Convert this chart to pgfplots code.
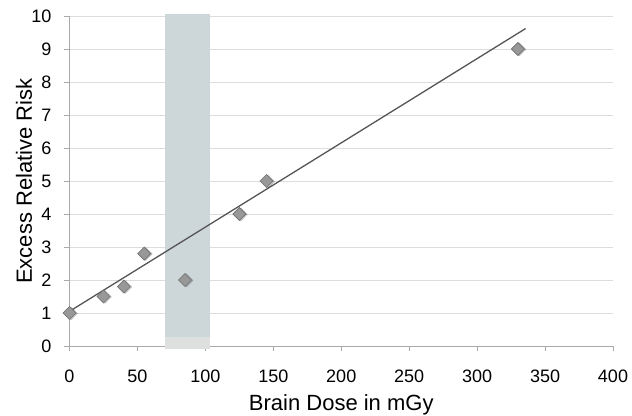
\documentclass[border=0pt]{standalone}
\usepackage{fontspec}
\setmainfont{Liberation Sans}
\usepackage{pgfplots}
\pgfplotsset{compat=1.18}

\definecolor{shade}{RGB}{205,214,217}
\definecolor{shadelow}{RGB}{222,223,223}
\definecolor{gridc}{RGB}{221,221,221}
\definecolor{axisc}{RGB}{170,170,170}
\definecolor{trend}{RGB}{85,85,85}
\definecolor{markfill}{RGB}{152,152,152}
\definecolor{markdraw}{RGB}{110,110,110}

\begin{document}
\begin{tikzpicture}
\begin{axis}[
    set layers,
    at={(0,0)}, anchor=south west,
    scale only axis,
    width=543.5bp, height=330bp,
    xmin=0, xmax=400, ymin=0, ymax=10,
    xtick={0,50,...,400}, ytick={0,1,...,10},
    axis x line*=bottom, axis y line*=left,
    axis line style={axisc, line width=0.9bp},
    tick style={axisc, line width=0.9bp},
    tick align=outside, major tick length=5bp,
    ymajorgrids,
    grid style={gridc, line width=0.8bp},
    clip=false,
    /pgf/number format/assume math mode=true,
    tick label style={font=\fontsize{18bp}{20bp}\selectfont, inner sep=0pt},
    yticklabel style={anchor=east, xshift=-12.8bp},
    xticklabel style={anchor=north, yshift=-19bp},
    xlabel={Brain Dose in mGy},
    ylabel={Excess Relative Risk},
    label style={font=\fontsize{22bp}{24bp}\selectfont},
    xlabel style={at={(axis description cs:0.5,0)}, anchor=base, yshift=-64bp},
    ylabel style={at={(axis description cs:-0.069,0.5)}, anchor=base},
]
% shaded dose band
\addplot[fill=shade, draw=none] coordinates {(70.5,0.27) (103.5,0.27) (103.5,10.05) (70.5,10.05)} -- cycle;
\addplot[fill=shadelow, draw=none] coordinates {(70.5,-0.09) (103.5,-0.09) (103.5,0.27) (70.5,0.27)} -- cycle;
% trend line
\addplot[trend, line width=1.3bp] coordinates {(0,1.05) (335.7,9.62)};
% marker shadows
\addplot[only marks, mark=square*, mark size=4.6bp,
    mark options={rotate=45, fill=black, draw=none, opacity=0.18, xshift=0.8bp, yshift=-1.4bp}]
    coordinates {(0,1) (25,1.5) (40,1.8) (55,2.8) (85,2) (125,4) (145,5) (330,9)};
% data points
\addplot[only marks, mark=square*, mark size=4.6bp,
    mark options={rotate=45, fill=markfill, draw=markdraw, line width=0.6bp}]
    coordinates {(0,1) (25,1.5) (40,1.8) (55,2.8) (85,2) (125,4) (145,5) (330,9)};
\end{axis}
\pgfresetboundingbox
\path[use as bounding box] (-69.5bp,-70bp) rectangle (562.5bp,346bp);
\end{tikzpicture}
\end{document}
